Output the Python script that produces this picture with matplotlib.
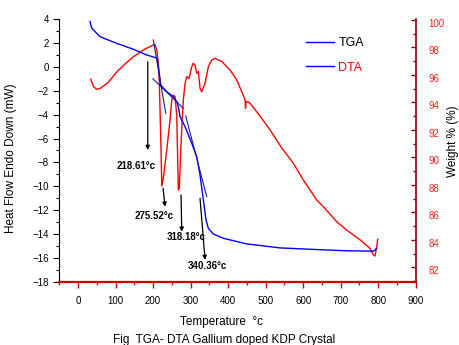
import matplotlib
matplotlib.use('Agg')
import matplotlib.pyplot as plt
import matplotlib.transforms as mtransforms
from matplotlib.lines import Line2D
from matplotlib.ticker import MultipleLocator

plt.rcParams['font.family'] = ['Liberation Sans', 'DejaVu Sans']

# DTA curve (heat flow, left axis)
dta_temp = [33.8, 41, 49.8, 60, 80, 103, 125, 146.6, 178.6, 200.7, 205.2, 209.7, 214, 216.7,
            218.5, 221.2, 223.1, 227.3, 236.4, 245.2, 249.7, 254, 258.5, 263, 267.3, 270,
            273.7, 278, 280.6, 285.2, 289.7, 295.8, 303, 307.3, 311.8, 316.3, 320.6,
            325.1, 329.7, 338.5, 347.3, 356.3, 365.1, 373.9, 383, 405.1, 423, 436.3,
            445.1, 446.4, 447.7, 450.4, 458.4, 485, 511.7, 542.9, 573.8, 600.4, 636.1,
            653.7, 689.4, 716.1, 752.4, 778.2, 787.1, 791.5, 796.1, 798.7]
dta_flow = [-1.01, -1.65, -1.87, -1.78, -1.30, -0.42, 0.25, 0.84, 1.51, 1.84, 1.89, 1.43, 0.31,
            -1.37, -3.61, -6.96, -9.98, -9.33, -6.96, -4.44, -2.77, -2.35, -2.49, -4.02,
            -10.31, -10.14, -6.96, -4.17, -2.77, -1.37, -0.81, -0.95, 0.03, 0.31, 0.17,
            -0.53, -0.39, -1.79, -2.07, -1.37, 0.03, 0.59, 0.73, 0.59, 0.46, -0.25, -1.09,
            -2.07, -2.77, -3.46, -2.93, -2.89, -3.04, -4.11, -5.28, -6.79, -8.07, -9.47,
            -11.15, -11.71, -12.97, -13.67, -14.51, -15.2, -15.76, -15.85, -15.07, -14.45]

# TGA curve (weight %, right axis)
tga_temp = [32, 36.5, 58.6, 103.1, 147.4, 183.1, 205.2, 209.7, 214, 220.4, 227.3, 236.4,
            254, 263, 267.3, 271.8, 285.2, 303, 316.3, 325.1, 333.9, 341.1, 347.3, 360.6,
            387.2, 449.6, 538.3, 627.1, 716.1, 787, 791.5, 796]
tga_weight = [99.88, 99.40, 98.78, 98.30, 97.87, 97.45, 97.27, 97.23, 96.6, 95.27, 95.05,
              94.78, 94.42, 94.05, 93.69, 92.96, 92.23, 91.03, 90.05, 88.72, 86.9, 85.44,
              84.83, 84.42, 84.11, 83.70, 83.41, 83.30, 83.20, 83.17, 83.26, 83.38]

# tangent lines on the TGA step (start/end temperature, start/end weight)
tangent_temp = [(200.7, 233.7), (199.1, 280.6), (287.0, 343.0)]
tangent_weight = [(98.54, 93.21), (95.73, 93.57), (93.01, 87.14)]

# peak labels with arrows (arrow start, arrow tip, label position) in left-axis units
peak_labels = ['218.61°c', '275.52°c', '318.18°c', '340.36°c']
arrow_start = [(185.8, 0.44), (226.5, -10.17), (274.5, -10.73), (325.1, -11.01)]
arrow_tip = [(185.8, -6.96), (231.9, -11.71), (276.4, -13.81), (338.5, -16.18)]
label_pos = [(154.6, -8.28), (202.6, -12.47), (287.8, -14.23), (345.7, -16.66)]

fig = plt.figure(figsize=(4.59, 3.45), dpi=100)
ax = fig.add_axes([0.1292, 0.1835, 0.7765, 0.7606])
ax2 = ax.twinx()

ax.plot(dta_temp, dta_flow, color='#ff0000', lw=1.0)
ax2.plot(tga_temp, tga_weight, color='#0000ff', lw=1.0)
for tt, ww in zip(tangent_temp, tangent_weight):
    ax2.plot(tt, ww, color='#1c1c9c', lw=0.8)

for lab, s, e, p in zip(peak_labels, arrow_start, arrow_tip, label_pos):
    ax.annotate('', xy=e, xytext=s,
                arrowprops=dict(arrowstyle='-|>', color='black', lw=0.9,
                                mutation_scale=6, shrinkA=0, shrinkB=0))
    ax.text(p[0], p[1], lab, fontsize=7, fontweight='bold', ha='center', va='center')

ax.set_xlim(-50, 900)
ax.set_ylim(-18, 4)
ax2.set_ylim(80.95, 100.05)

ax.xaxis.set_major_locator(MultipleLocator(100))
ax.xaxis.set_minor_locator(MultipleLocator(50))
ax.yaxis.set_major_locator(MultipleLocator(2))
ax.yaxis.set_minor_locator(MultipleLocator(1))
ax2.yaxis.set_minor_locator(MultipleLocator(1))
ax2.set_yticks(range(82, 101, 2))

ax.spines['top'].set_visible(False)
ax2.spines['top'].set_visible(False)
ax2.spines['left'].set_visible(False)
ax2.spines['bottom'].set_visible(False)
ax.spines['right'].set_visible(False)
ax.spines['bottom'].set_color('#d40000')
ax.spines['bottom'].set_linewidth(1.6)
ax2.spines['right'].set_color('#8b0000')
ax2.spines['right'].set_linewidth(1.2)

ax.tick_params(axis='x', which='major', direction='out', length=4, width=1, color='#d40000',
               labelsize=7, pad=6)
ax.tick_params(axis='x', which='minor', direction='out', length=2.5, width=1, color='#d40000')
ax.tick_params(axis='y', which='major', direction='out', length=4, width=0.8, labelsize=7)
ax.tick_params(axis='y', which='minor', direction='out', length=2.5, width=0.8)
ax2.tick_params(axis='y', which='major', direction='in', length=3.5, width=1, color='#8b0000',
                labelsize=7, labelcolor='#ff2020', pad=9)
ax2.tick_params(axis='y', which='minor', direction='in', length=2, width=1, color='#8b0000')

offset = mtransforms.ScaledTranslation(0, -0.03, fig.dpi_scale_trans)
for lbl in ax2.get_yticklabels():
    lbl.set_transform(lbl.get_transform() + offset)

ax.set_ylabel('Heat Flow Endo Down (mW)', fontsize=8.5)
ax.yaxis.set_label_coords(-0.119, 0.471)
ax2.set_ylabel('Weight % (%)', fontsize=8.5)
ax2.yaxis.set_label_coords(1.088, 0.534)

fig.text(222 / 459, 1 - 321.7 / 345, 'Temperature  °c', fontsize=8.5, ha='center', va='center')
fig.text(224 / 459, 1 - 340 / 345, 'Fig  TGA- DTA Gallium doped KDP Crystal', fontsize=8.5,
         ha='center', va='center')

handles = [Line2D([], [], color='#0000ff', lw=1.0), Line2D([], [], color='#0000ff', lw=1.0)]
leg = ax.legend(handles, ['TGA', 'DTA'], loc='upper left', bbox_to_anchor=(0.662, 0.975),
                frameon=False, fontsize=9, handlelength=2.24, handletextpad=0.3,
                labelspacing=1.0)
leg.get_texts()[0].set_color('black')
leg.get_texts()[1].set_color('#ff0000')

fig.savefig('out.png', dpi=100)
